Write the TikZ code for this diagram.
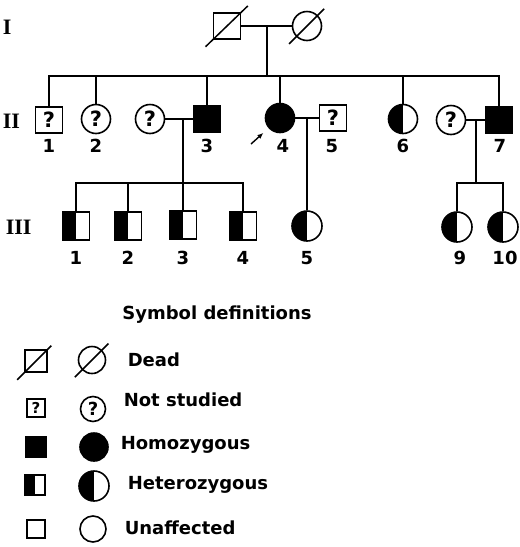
\documentclass[tikz,border=0pt]{standalone}
\usepackage{fontspec}
\setmainfont{Liberation Serif}
\setsansfont{DejaVu Sans}
\usetikzlibrary{arrows.meta}

\begin{document}
\begin{tikzpicture}[x=1pt, y=-1pt, line width=1.6pt,
	male/.style = {shape=rectangle, draw, inner sep=0pt, minimum width=27pt, minimum height=26pt, font=\sffamily\bfseries\fontsize{21}{21}\selectfont},
	female/.style = {shape=circle, draw, inner sep=0pt, minimum size=29pt, font=\sffamily\bfseries\fontsize{21}{21}\selectfont},
	affected/.style = {fill=black},
	carrier/.style = {path picture={\fill[black] (path picture bounding box.south west) rectangle (path picture bounding box.north);}},
	slash/.style = {line width=1.5pt, shorten <=-10pt, shorten >=-9pt},
	num/.style = {inner sep=0pt, font=\sffamily\bfseries\fontsize{18}{18}\selectfont},
	gen/.style = {inner sep=0pt, anchor=west, font=\bfseries\fontsize{22}{22}\selectfont},
	legtext/.style = {inner sep=0pt, anchor=west, font=\sffamily\bfseries\fontsize{18}{18}\selectfont}]
	\useasboundingbox (0,0) rectangle (520,547);

	% generations
	\node[gen] (g1) at (2,27) {I};
	\node[gen] (g2) at (2,121) {II};
	\node[gen] (g3) at (5,227) {III};

	% I
	\node[male] (i1) at (227,26) {};
	\node[female] (i2) at (307,26) {};
	\draw[slash] (i1.south west) -- (i1.north east);
	\draw[slash] (i2.south west) -- (i2.north east);
	\draw (i1) -- (i2);
	\coordinate (m1) at (267,26);
	\coordinate (s1) at (267,76);
	\draw (m1) -- (s1);

	% II
	\node[male] (ii1) at (49,120) {?};
	\node[female] (ii2) at (96,119) {?};
	\node[female] (w3) at (150,119) {?};
	\node[male, affected] (ii3) at (207,119) {};
	\node[female, affected] (ii4) at (280,118) {};
	\node[male] (ii5) at (333,118) {?};
	\node[female, carrier] (ii6) at (403,119) {};
	\node[female] (w7) at (451,120) {?};
	\node[male, affected] (ii7) at (499,120) {};
	\draw (ii1) |- (s1) -| (ii7);
	\foreach \c in {ii2,ii3,ii4,ii6}
		\draw (\c) -- (\c |- s1);
	\foreach \n/\x in {1/49,2/96,3/207,4/283,5/332,6/403,7/500}
		\node[num] (n-ii\n) at (\x,146) {\n};
	\coordinate (p4) at (251,144);
	\draw[-{Latex[length=6pt,width=5pt]}, line width=1.4pt, shorten >=7pt] (p4) -- (ii4);

	% III
	\node[male, carrier, minimum height=28pt] (iii1) at (76,226) {};
	\node[male, carrier, minimum height=28pt] (iii2) at (128,226) {};
	\node[male, carrier, minimum height=28pt] (iii3) at (183,225) {};
	\node[male, carrier, minimum height=28pt] (iii4) at (243,226) {};
	\node[female, carrier, minimum size=30pt] (iii5) at (307,226) {};
	\node[female, carrier, minimum size=30pt] (iii9) at (457,227) {};
	\node[female, carrier, minimum size=30pt] (iii10) at (503,227) {};
	\foreach \n/\x in {1/76,2/128,3/183,4/243,5/307,9/460,10/505}
		\node[num] (n-iii\n) at (\x,258) {\n};

	% marriages
	\draw (w3) -- (ii3);
	\coordinate (m3) at (183,119);
	\coordinate (s3) at (183,183);
	\draw (m3) -- (s3);
	\draw (iii1) |- (s3) -| (iii4);
	\draw (iii2) -- (iii2 |- s3);
	\draw (iii3) -- (s3);
	\draw (ii4) -- (ii5);
	\coordinate (m4) at (307,118);
	\draw (m4) -- (iii5);
	\draw (w7) -- (ii7);
	\coordinate (m7) at (476,120);
	\coordinate (s7) at (476,183);
	\draw (m7) -- (s7);
	\draw (iii9) |- (s7) -| (iii10);

	% legend
	\node[legtext, anchor=center] (title) at (217,315) {Symbol definitions};
	\node[male, minimum width=22pt, minimum height=22pt] (dm) at (36,361) {};
	\node[female, minimum size=27pt] (df) at (92,360) {};
	\draw[slash, shorten >=-5pt] (dm.south west) -- (dm.north east);
	\draw[slash] (df.south west) -- (df.north east);
	\node[legtext] (t-dead) at (127,360) {Dead};
	\node[male, minimum width=18pt, minimum height=18pt, font=\sffamily\bfseries\fontsize{15}{15}\selectfont] (nm) at (36,408) {?};
	\node[female, minimum size=25pt, font=\sffamily\bfseries\fontsize{18}{18}\selectfont] (nf) at (93,409) {?};
	\node[legtext] (t-not) at (123,400) {Not studied};
	\node[male, affected, minimum width=21pt, minimum height=21pt] (hm) at (36,447) {};
	\node[female, affected, minimum size=28pt] (hf) at (94,447) {};
	\node[legtext] (t-hom) at (120,445) {Homozygous};
	\node[male, carrier, minimum width=20pt, minimum height=20pt] (cm) at (35,485) {};
	\node[female, carrier, minimum size=30pt] (cf) at (94,486) {};
	\node[legtext] (t-het) at (127,485) {Heterozygous};
	\node[male, minimum width=18pt, minimum height=18pt] (um) at (36,529) {};
	\node[female, minimum size=26pt] (uf) at (93,529) {};
	\node[legtext] (t-un) at (124,528) {Unaffected};
\end{tikzpicture}
\end{document}
